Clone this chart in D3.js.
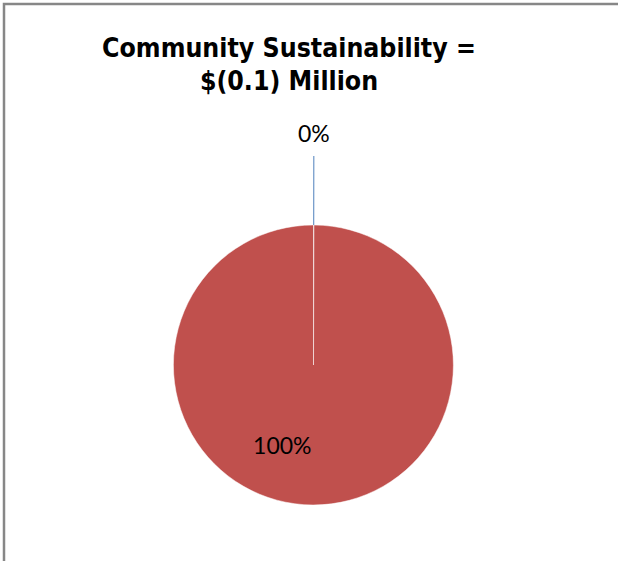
<!DOCTYPE html>
<html>
<head>
<meta charset="utf-8">
<script src="https://cdn.jsdelivr.net/npm/d3@7.9.0/dist/d3.min.js"></script>
<style>
  html, body { margin: 0; padding: 0; background: #fff; }
  svg { display: block; }
</style>
</head>
<body>
<svg id="chart" width="618" height="561"></svg>
<script>
// chart data
const titleLines = ['Community Sustainability =', '$(0.1) Million'];
const categories = ['Other', 'Community Sustainability'];
const values = [0.05, 100];
const colors = ['#4F81BD', '#C0504D'];

const width = 618;
const height = 561;
const cx = 313.5;
const cy = 365;
const radius = 140;

const svg = d3.select('#chart');

// frame (only top and left edges are visible in the crop)
svg.append('rect')
  .attr('x', 4).attr('y', 4)
  .attr('width', width + 20).attr('height', height + 20)
  .attr('fill', '#fff')
  .attr('stroke', '#878787')
  .attr('stroke-width', 2.5);

// title
const title = svg.append('text')
  .attr('text-anchor', 'middle')
  .attr('font-family', 'DejaVu Sans Condensed, DejaVu Sans, sans-serif')
  .attr('font-weight', 'bold')
  .attr('font-size', 28)
  .attr('fill', '#000');

titleLines.forEach((line, i) => {
  title.append('tspan')
    .attr('x', 289)
    .attr('y', 57 + i * 33)
    .text(line);
});

// fit the first line to the width seen in the picture
let firstWidth = title.select('tspan').node().getComputedTextLength();
if (firstWidth > 0) {
  title.attr('font-size', 28 * 374 / firstWidth);
}

const total = d3.sum(values);
const data = categories.map((c, i) => ({ label: c, value: values[i], color: colors[i] }));

const pie = d3.pie().sort(null).value(d => d.value);
const arcs = pie(data);
const arc = d3.arc().innerRadius(0).outerRadius(radius);

const g = svg.append('g').attr('transform', `translate(${cx},${cy})`);

g.selectAll('path.slice')
  .data(arcs)
  .join('path')
  .attr('class', 'slice')
  .attr('d', arc)
  .attr('fill', d => d.data.color)
  .attr('stroke', '#fff')
  .attr('stroke-width', 0.5);

const pct = d => d3.format('.0%')(d.data.value / total);
const point = (a, r) => [Math.sin(a) * r, -Math.cos(a) * r];

// tiny slice: outside label with a leader line
arcs.filter(d => d.data.value / total < 0.05).forEach(d => {
  const mid = (d.startAngle + d.endAngle) / 2;
  const p0 = point(mid, radius);
  const p1 = point(mid, radius + 69);
  g.append('line')
    .attr('x1', p0[0]).attr('y1', p0[1])
    .attr('x2', p1[0]).attr('y2', p1[1])
    .attr('stroke', d.data.color)
    .attr('stroke-width', 1);
  const pl = point(mid, radius + 92);
  g.append('text')
    .attr('x', pl[0]).attr('y', pl[1])
    .attr('text-anchor', 'middle')
    .attr('dominant-baseline', 'central')
    .attr('font-family', 'Lato, Liberation Sans, sans-serif')
    .attr('font-size', 23)
    .attr('fill', '#000')
    .text(pct(d));
});

// big slice: label inside, placed a bit left of the bottom
arcs.filter(d => d.data.value / total >= 0.05).forEach(d => {
  const mid = (d.startAngle + d.endAngle) / 2 + 0.37;
  const pl = point(mid, 86);
  g.append('text')
    .attr('x', pl[0]).attr('y', pl[1])
    .attr('text-anchor', 'middle')
    .attr('dominant-baseline', 'central')
    .attr('font-family', 'Lato, Liberation Sans, sans-serif')
    .attr('font-size', 23)
    .attr('fill', '#000')
    .text(pct(d));
});
</script>
</body>
</html>
